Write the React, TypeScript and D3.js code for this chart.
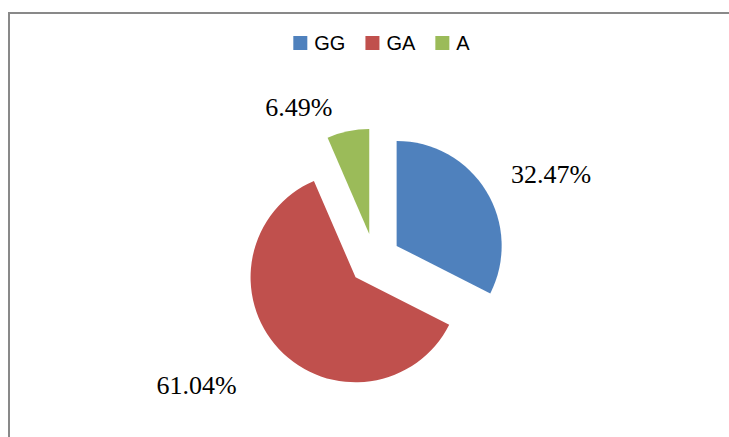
import { useEffect, useRef } from 'react';
import * as d3 from 'd3';

const categories = ['GG', 'GA', 'A'];
const values = [32.47, 61.04, 6.49];
const valueLabels = ['32.47%', '61.04%', '6.49%'];
const colors = ['#4F81BD', '#C0504D', '#9BBB59'];

// hand-tuned label offsets (Excel "best fit" placement)
const labelShift: [number, number][] = [
  [48, 3],
  [-68, 31],
  [-45, 4]
];

const W = 729;
const H = 437;

export default function App() {
  const ref = useRef<SVGSVGElement | null>(null);

  useEffect(() => {
    document.body.style.margin = '0';
    if (!ref.current) return;
    const svg = d3.select(ref.current);
    svg.selectAll('*').remove();

    svg.append('rect').attr('width', W).attr('height', H).attr('fill', '#fff');

    // chart frame (right and bottom edges fall outside the crop)
    svg
      .append('rect')
      .attr('x', 9)
      .attr('y', 13)
      .attr('width', W + 20)
      .attr('height', H + 20)
      .attr('fill', 'none')
      .attr('stroke', '#898989')
      .attr('stroke-width', 2);

    const cx = 374.5;
    const cy = 259.5;
    const r = 105;
    const explode = 26;

    const pie = d3
      .pie<number>()
      .sort(null)
      .value((d) => d);
    const arcs = pie(values);
    const arc = d3.arc<d3.PieArcDatum<number>>().innerRadius(0).outerRadius(r);

    const g = svg.append('g').attr('transform', `translate(${cx}, ${cy})`);

    arcs.forEach((a, i) => {
      const mid = (a.startAngle + a.endAngle) / 2;
      const dx = Math.sin(mid);
      const dy = -Math.cos(mid);
      const ox = dx * explode;
      const oy = dy * explode;

      g.append('path')
        .attr('d', arc(a) as string)
        .attr('transform', `translate(${ox}, ${oy})`)
        .attr('fill', colors[i]);

      const lx = ox + dx * (r + 20) + labelShift[i][0];
      const ly = oy + dy * (r + 20) + labelShift[i][1];
      g.append('text')
        .attr('x', lx)
        .attr('y', ly)
        .attr('text-anchor', 'middle')
        .style('font-family', '"Liberation Serif", "Times New Roman", serif')
        .style('font-size', '26px')
        .attr('fill', '#000')
        .text(valueLabels[i]);
    });

    // legend
    const legend = svg.append('g');
    const box = 14;
    const gap = 7;
    const spacing = 20;
    let x = 0;
    categories.forEach((c, i) => {
      const item = legend.append('g').attr('transform', `translate(${x}, 0)`);
      item
        .append('rect')
        .attr('x', 0)
        .attr('y', 36)
        .attr('width', box)
        .attr('height', box)
        .attr('fill', colors[i]);
      const t = item
        .append('text')
        .attr('x', box + gap)
        .attr('y', 50)
        .style('font-family', '"Liberation Sans", Arial, sans-serif')
        .style('font-size', '20px')
        .attr('fill', '#000')
        .text(c);
      const tw = (t.node() as SVGTextElement).getComputedTextLength();
      x += box + gap + tw + spacing;
    });
    const total = x - spacing;
    legend.attr('transform', `translate(${381.5 - total / 2}, 0)`);
  }, []);

  return <svg ref={ref} width={W} height={H} style={{ display: 'block' }} />;
}
